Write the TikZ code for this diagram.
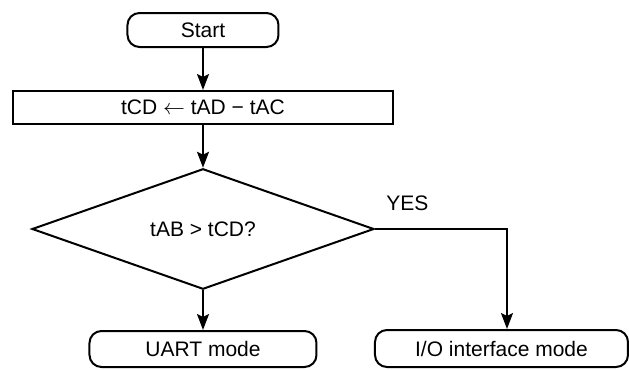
\documentclass[tikz,border=0pt]{standalone}
\usepackage{fontspec}
\setmainfont{Liberation Sans}
\usetikzlibrary{positioning, shapes.geometric, arrows.meta}

\begin{document}
\begin{tikzpicture}[x=0.5pt, y=-0.5pt,
    every node/.style={font=\fontsize{10.5}{12.6}\selectfont},
    terminal/.style={draw, line width=1pt, rounded corners=6pt, inner sep=0pt},
    process/.style={draw, line width=1pt, inner sep=0pt},
    decision/.style={draw, diamond, line width=1pt, inner sep=0pt},
    flow/.style={line width=1pt, -{Stealth[length=8pt, width=6pt, inset=1.5pt]}}]

    % Fix picture size
    \useasboundingbox (0,0) rectangle (629,370);

    % Draw the boxes
    \node[terminal, minimum width=75.5pt, minimum height=17pt] (start) at (203,30) {Start};
    \node[process, minimum width=190pt, minimum height=16.5pt] (calc) at (203,107.5) {tCD $\leftarrow$ tAD − tAC};
    \node[decision, minimum width=171pt, minimum height=56pt] (check) at (203,229) {tAB > tCD?};
    \node[terminal, minimum width=113.5pt, minimum height=18pt] (uart) at (203,349) {UART mode};
    \node[terminal, minimum width=126.5pt, minimum height=18.5pt] (io) at (501.5,348.5) {I/O interface mode};

    % Label the YES branch
    \node[inner sep=0pt, above right=9pt and 5.5pt of check.east] (yes) {YES};

    % Draw the arrows
    \draw[flow] (start) -- (calc);
    \draw[flow] (calc) -- (check);
    \draw[flow] (check) -- (uart);
    \draw[flow] (check.east) -| ([xshift=2.75pt]io.north);

\end{tikzpicture}
\end{document}
